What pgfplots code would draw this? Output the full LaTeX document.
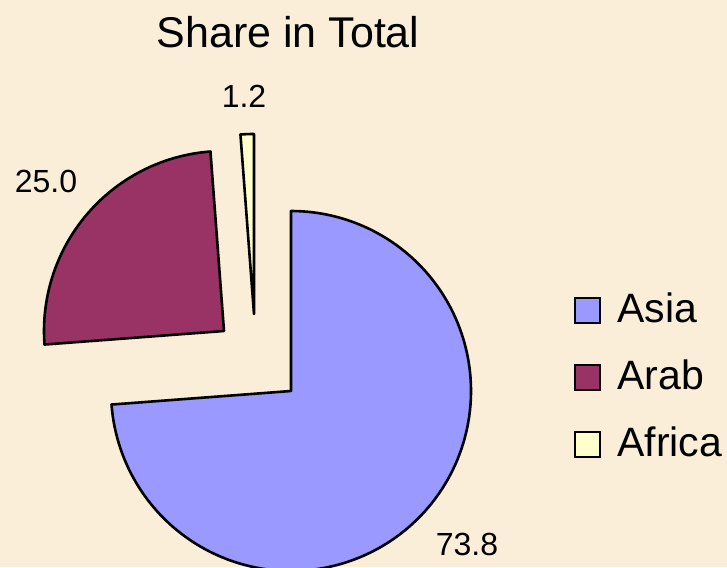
\documentclass[border=0pt]{standalone}
\usepackage{pgfplots}
\pgfplotsset{compat=1.18}
\usepackage{fontspec}
\setmainfont{Liberation Sans}
\definecolor{bg}{RGB}{250,238,216}
\definecolor{asia}{RGB}{153,153,255}
\definecolor{arab}{RGB}{153,51,102}
\definecolor{africa}{RGB}{255,255,204}
% data (percent shares)
\def\vAsia{73.8}
\def\vArab{25.0}
\def\vAfrica{1.2}
\pgfmathsetmacro{\aA}{90}
\pgfmathsetmacro{\aB}{90-3.6*\vAsia}
\pgfmathsetmacro{\aC}{\aB-3.6*\vArab}
\pgfmathsetmacro{\aD}{\aC-3.6*\vAfrica}
\begin{document}
\begin{tikzpicture}
\begin{axis}[
  scale only axis, width=363.5pt, height=283.5pt,
  xmin=0, xmax=727, ymin=0, ymax=567,
  hide axis, clip=true,
]
\fill[bg] (axis cs:0,0) rectangle (axis cs:727,567);
% Asia
\addplot[fill=asia, draw=black, line width=1.3pt, line join=round, domain=\aB:\aA, samples=150, variable=\t]
  ({291+180*cos(\t)}, {176+180*sin(\t)}) -- (axis cs:291,176) -- cycle;
% Arab
\addplot[fill=arab, draw=black, line width=1.3pt, line join=round, domain=\aC:\aB, samples=80, variable=\t]
  ({224+180*cos(\t)}, {236+180*sin(\t)}) -- (axis cs:224,236) -- cycle;
% Africa
\addplot[fill=africa, draw=black, line width=1.3pt, line join=round, domain=\aD:\aC, samples=10, variable=\t]
  ({254+180*cos(\t)}, {253+180*sin(\t)}) -- (axis cs:254,253) -- cycle;
% labels
\node[font=\fontsize{21.5}{24}\selectfont, anchor=base] at (axis cs:288,519) {Share in Total};
\node[font=\fontsize{16}{18}\selectfont, anchor=base] at (axis cs:467,12) {73.8};
\node[font=\fontsize{16}{18}\selectfont, anchor=base] at (axis cs:46,374) {25.0};
\node[font=\fontsize{16}{18}\selectfont, anchor=base] at (axis cs:244,459) {1.2};
% legend
\draw[fill=asia, line width=1pt] (axis cs:575,244) rectangle (axis cs:600,269);
\draw[fill=arab, line width=1pt] (axis cs:575,177) rectangle (axis cs:600,202);
\draw[fill=africa, line width=1pt] (axis cs:575,110) rectangle (axis cs:600,135);
\node[font=\fontsize{20.5}{23}\selectfont, anchor=base west, inner sep=0pt] at (axis cs:617,244) {Asia};
\node[font=\fontsize{20.5}{23}\selectfont, anchor=base west, inner sep=0pt] at (axis cs:617,177) {Arab};
\node[font=\fontsize{20.5}{23}\selectfont, anchor=base west, inner sep=0pt] at (axis cs:617,110) {Africa};
\end{axis}
\end{tikzpicture}
\end{document}
